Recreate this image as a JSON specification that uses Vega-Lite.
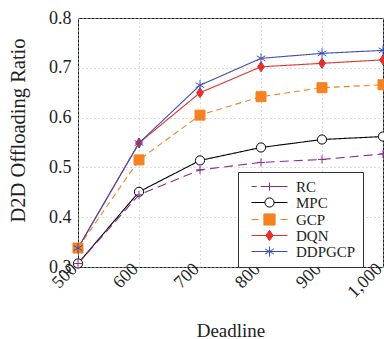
{
  "$schema": "https://vega.github.io/schema/vega-lite/v6.json",
  "width": 305,
  "height": 249,
  "autosize": {"type": "none"},
  "padding": {"left": 78, "top": 18, "right": 1, "bottom": 72},
  "background": "white",
  "data": {
    "values": [
      {"deadline": 500, "ratio": 0.338, "method": "DQN"},
      {"deadline": 600, "ratio": 0.549, "method": "DQN"},
      {"deadline": 700, "ratio": 0.650, "method": "DQN"},
      {"deadline": 800, "ratio": 0.702, "method": "DQN"},
      {"deadline": 900, "ratio": 0.709, "method": "DQN"},
      {"deadline": 1000, "ratio": 0.716, "method": "DQN"},
      {"deadline": 500, "ratio": 0.338, "method": "GCP"},
      {"deadline": 600, "ratio": 0.515, "method": "GCP"},
      {"deadline": 700, "ratio": 0.605, "method": "GCP"},
      {"deadline": 800, "ratio": 0.642, "method": "GCP"},
      {"deadline": 900, "ratio": 0.660, "method": "GCP"},
      {"deadline": 1000, "ratio": 0.666, "method": "GCP"},
      {"deadline": 500, "ratio": 0.338, "method": "DDPGCP"},
      {"deadline": 600, "ratio": 0.549, "method": "DDPGCP"},
      {"deadline": 700, "ratio": 0.665, "method": "DDPGCP"},
      {"deadline": 800, "ratio": 0.719, "method": "DDPGCP"},
      {"deadline": 900, "ratio": 0.729, "method": "DDPGCP"},
      {"deadline": 1000, "ratio": 0.735, "method": "DDPGCP"},
      {"deadline": 500, "ratio": 0.307, "method": "MPC"},
      {"deadline": 600, "ratio": 0.451, "method": "MPC"},
      {"deadline": 700, "ratio": 0.514, "method": "MPC"},
      {"deadline": 800, "ratio": 0.540, "method": "MPC"},
      {"deadline": 900, "ratio": 0.556, "method": "MPC"},
      {"deadline": 1000, "ratio": 0.562, "method": "MPC"},
      {"deadline": 500, "ratio": 0.307, "method": "RC"},
      {"deadline": 600, "ratio": 0.445, "method": "RC"},
      {"deadline": 700, "ratio": 0.495, "method": "RC"},
      {"deadline": 800, "ratio": 0.510, "method": "RC"},
      {"deadline": 900, "ratio": 0.516, "method": "RC"},
      {"deadline": 1000, "ratio": 0.527, "method": "RC"}
    ]
  },
  "encoding": {
    "x": {
      "field": "deadline", "type": "quantitative",
      "scale": {"domain": [500, 1000], "nice": false, "zero": false},
      "axis": {
        "title": "Deadline", "values": [500, 600, 700, 800, 900, 1000], "format": ",.0f",
        "labelAngle": -45, "labelAlign": "right", "labelBaseline": "middle", "labelPadding": -1, "labelOffset": -4,
        "titleBaseline": "alphabetic", "titleY": 69
      }
    },
    "y": {
      "field": "ratio", "type": "quantitative",
      "scale": {"domain": [0.3, 0.8], "nice": false, "zero": false},
      "axis": {
        "title": "D2D Offloading Ratio", "values": [0.3, 0.4, 0.5, 0.6, 0.7, 0.8], "format": ".1f",
        "labelPadding": 7, "titleX": -60, "titleY": 112, "titleBaseline": "middle", "titleFontSize": 20.5
      }
    }
  },
  "layer": [
    {
      "mark": {"type": "line", "strokeWidth": 1.1},
      "encoding": {
        "stroke": {
          "field": "method", "type": "nominal",
          "scale": {"domain": ["RC", "MPC", "GCP", "DQN", "DDPGCP"], "range": ["#8E2A8E", "#000000", "#F58220", "#E3302C", "#3D4DB7"]},
          "legend": {
            "title": null, "orient": "none", "legendX": 160, "legendY": 154,
            "padding": 7, "strokeColor": "#333333", "fillColor": "white",
            "symbolSize": 64, "symbolOffset": 17, "labelOffset": 19, "rowPadding": 0,
            "symbolStrokeWidth": 1,
            "encode": {
              "symbols": {
                "update": {
                  "shape": {"signal": "datum.value === 'RC' ? 'M-4.5,0L-3.2,0M-2.2,0L4.5,0M0,-1L0,1' : datum.value === 'MPC' ? 'M-4.5,0L-1.15,0M1.15,0L4.5,0M-1.15,0A1.15,1.15,0,1,1,1.15,0A1.15,1.15,0,1,1,-1.15,0Z' : datum.value === 'GCP' ? 'M-4.5,0L-2.75,0M2.75,0L4.5,0M-1.4,-1.4L1.4,-1.4L1.4,1.4L-1.4,1.4Z' : datum.value === 'DQN' ? 'M-4.5,0L4.5,0M0,-1.3L0.9,0L0,1.3L-0.9,0Z' : 'M-4.5,0L4.5,0M0,-1.25L0,1.25M-1.08,-0.625L1.08,0.625M-1.08,0.625L1.08,-0.625'"},
                  "fill": {"signal": "datum.value === 'MPC' ? '#FFFFFF' : datum.value === 'GCP' ? '#F58220' : datum.value === 'DQN' ? '#E3302C' : 'transparent'"}
                }
              }
            }
          }
        },
        "strokeDash": {
          "field": "method", "type": "nominal",
          "scale": {"domain": ["RC", "MPC", "GCP", "DQN", "DDPGCP"], "range": [[9, 5], [1, 0], [6, 4], [1, 0], [1, 0]]},
          "legend": null
        }
      }
    },
    {
      "mark": {"type": "point", "filled": false, "size": 64, "strokeWidth": 1, "opacity": 1},
      "encoding": {
        "stroke": {
          "field": "method", "type": "nominal",
          "scale": {"domain": ["RC", "MPC", "GCP", "DQN", "DDPGCP"], "range": ["#8E2A8E", "#000000", "#F58220", "#E3302C", "#3D4DB7"]},
          "legend": null
        },
        "fill": {
          "field": "method", "type": "nominal",
          "scale": {"domain": ["RC", "MPC", "GCP", "DQN", "DDPGCP"], "range": ["#8E2A8E", "#FFFFFF", "#F58220", "#E3302C", "#3D4DB7"]},
          "legend": null
        },
        "shape": {
          "field": "method", "type": "nominal",
          "scale": {"domain": ["RC", "MPC", "GCP", "DQN", "DDPGCP"], "range": [
            "M-1,0L1,0M0,-1L0,1",
            "M-1.15,0A1.15,1.15,0,1,1,1.15,0A1.15,1.15,0,1,1,-1.15,0Z",
            "M-1.25,-1.25L1.25,-1.25L1.25,1.25L-1.25,1.25Z",
            "M0,-1.25L0.85,0L0,1.25L-0.85,0Z",
            "M0,-1.25L0,1.25M-1.08,-0.625L1.08,0.625M-1.08,0.625L1.08,-0.625"
          ]},
          "legend": null
        }
      }
    }
  ],
  "resolve": {"legend": {"stroke": "independent"}},
  "config": {
    "font": "Liberation Serif",
    "view": {"stroke": "#222222", "strokeWidth": 1},
    "axis": {
      "labelFont": "Liberation Serif", "titleFont": "Liberation Serif",
      "labelFontSize": 18, "titleFontSize": 19, "labelColor": "#222222", "titleColor": "#222222",
      "titleFontWeight": "normal",
      "domain": false, "ticks": false,
      "grid": true, "gridColor": "#BBBBBB", "gridDash": [1, 3], "gridWidth": 1
    },
    "legend": {
      "labelFont": "Liberation Serif", "labelFontSize": 15, "labelColor": "#222222"
    }
  }
}
